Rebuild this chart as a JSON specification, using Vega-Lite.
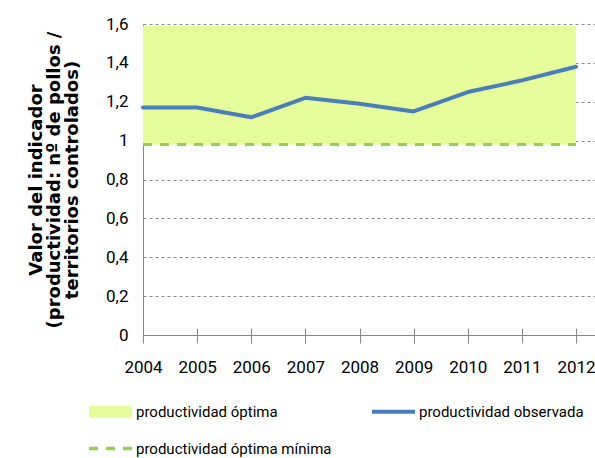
{
  "$schema": "https://vega.github.io/schema/vega-lite/v6.json",
  "width": 452,
  "height": 311,
  "autosize": {"type": "none"},
  "padding": {"left": 143, "top": 24, "right": 0, "bottom": 123},
  "background": "white",
  "config": {"view": {"stroke": null}},
  "datasets": {
    "band": [{"year": 2004, "year_end": 2012, "value": 0.98, "value_high": 1.59, "series": "productividad óptima"}],
    "minimum": [
      {"year": 2004, "value": 0.98, "series": "productividad óptima mínima"},
      {"year": 2012, "value": 0.98, "series": "productividad óptima mínima"}
    ],
    "observed": [
      {"year": 2004, "value": 1.17, "series": "productividad observada"},
      {"year": 2005, "value": 1.17, "series": "productividad observada"},
      {"year": 2006, "value": 1.12, "series": "productividad observada"},
      {"year": 2007, "value": 1.22, "series": "productividad observada"},
      {"year": 2008, "value": 1.19, "series": "productividad observada"},
      {"year": 2009, "value": 1.15, "series": "productividad observada"},
      {"year": 2010, "value": 1.25, "series": "productividad observada"},
      {"year": 2011, "value": 1.31, "series": "productividad observada"},
      {"year": 2012, "value": 1.38, "series": "productividad observada"}
    ]
  },
  "encoding": {
    "x": {
      "field": "year", "type": "quantitative",
      "scale": {"domain": [2004, 2012.35], "nice": false, "zero": false},
      "axis": {
        "title": null, "values": [2004, 2005, 2006, 2007, 2008, 2009, 2010, 2011, 2012],
        "format": "d", "grid": false, "labelFont": "Roboto", "labelFontSize": 17, "labelColor": "black",
        "labelPadding": 16, "labelFlush": false, "tickSize": 8, "tickColor": "#868686", "domainColor": "#868686", "labelOverlap": false,
        "encoding": {"ticks": {"y": {"value": -7}, "y2": {"value": 8}}}
      }
    },
    "y": {
      "field": "value", "type": "quantitative",
      "scale": {"domain": [0, 1.6], "nice": false},
      "axis": {
        "title": ["Valor del indicador", "(productividad: nº de pollos /", "territorios controlados)"],
        "titleFont": "DejaVu Sans", "titleFontSize": 18, "titleFontWeight": "bold", "titleColor": "black", "titleLineHeight": 18,
        "titlePadding": 24,
        "values": [0, 0.2, 0.4, 0.6, 0.8, 1, 1.2, 1.4, 1.6],
        "labelExpr": "replace(format(datum.value, '~g'), '.', ',')",
        "labelFont": "Roboto", "labelFontSize": 17, "labelColor": "black", "labelPadding": 15,
        "ticks": false, "domainColor": "#868686",
        "grid": true, "gridColor": "#8c8c8c", "gridDash": [3, 3], "gridWidth": 1
      }
    },
    "color": {
      "field": "series", "type": "nominal",
      "scale": {
        "domain": ["productividad óptima", "productividad observada", "productividad óptima mínima"],
        "range": ["#E6FB9A", "#4A7EBB", "#92D050"]
      },
      "legend": {
        "title": null, "orient": "none", "legendX": -54, "legendY": 380, "columns": 2,
        "values": ["productividad óptima", "productividad óptima mínima", "productividad observada"],
        "columnPadding": 32, "rowPadding": 21, "symbolType": "stroke", "symbolSize": 100,
        "labelFont": "Roboto", "labelFontSize": 15, "labelColor": "black", "labelOffset": 3, "labelLimit": 400,
        "encoding": {
          "symbols": {
            "shape": {"value": {"expr": "datum.value === 'productividad óptima' ? 'M-2.15,-0.6H2.15V0.6H-2.15Z' : 'M-2.15,0H2.15'"}},
            "size": {"value": 400},
            "x": {"value": 21.5},
            "fill": {"value": {"expr": "datum.value === 'productividad óptima' ? scale('color', datum.value) : 'transparent'"}},
            "stroke": {"value": {"expr": "datum.value === 'productividad óptima' ? 'transparent' : scale('color', datum.value)"}},
            "strokeWidth": {"value": {"expr": "datum.value === 'productividad óptima' ? 0 : datum.value === 'productividad observada' ? 4 : 3.5"}},
            "strokeDash": {"value": {"expr": "datum.value === 'productividad óptima mínima' ? [9, 8] : [1, 0]"}},
            "opacity": {"value": 1},
            "fillOpacity": {"value": 1},
            "strokeOpacity": {"value": 1}
          },
          "labels": {
            "x": {"value": 47}
          }
        }
      }
    }
  },
  "layer": [
    {
      "data": {"name": "band"},
      "mark": {"type": "rect"},
      "encoding": {"x2": {"field": "year_end"}, "y2": {"field": "value_high"}}
    },
    {
      "data": {"name": "minimum"},
      "mark": {"type": "line", "strokeWidth": 3, "strokeDash": [9, 8]}
    },
    {
      "data": {"name": "observed"},
      "mark": {"type": "line", "strokeWidth": 4, "strokeJoin": "round", "strokeCap": "round"}
    }
  ]
}
